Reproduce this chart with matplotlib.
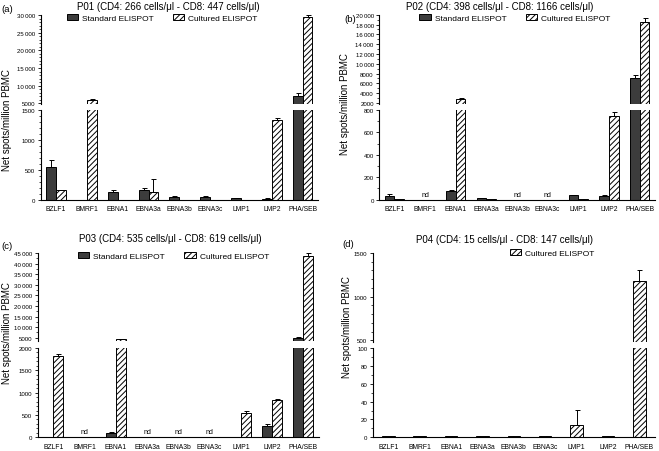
import numpy as np
import matplotlib
matplotlib.use('Agg')
import matplotlib.pyplot as plt
from matplotlib.patches import Patch
from matplotlib.ticker import MultipleLocator, FuncFormatter

plt.rcParams['font.family'] = ['Liberation Sans', 'DejaVu Sans']
plt.rcParams['hatch.linewidth'] = 0.7

W, H = 659, 452
nan = np.nan

categories = ['BZLF1', 'BMRF1', 'EBNA1', 'EBNA3a', 'EBNA3b', 'EBNA3c', 'LMP1', 'LMP2', 'PHA/SEB']

# P01
p01_std = [540, nan, 125, 160, 40, 40, 22, 17, 7200]
p01_std_err = [130, 0, 45, 30, 18, 20, 5, 15, 700]
p01_cult = [170, 6000, 0, 135, 0, 0, 0, 1335, 29500]
p01_cult_err = [0, 300, 0, 210, 0, 0, 0, 25, 400]
p01_nd = []

# P02
p02_std = [36, nan, 78, 15, nan, nan, 39, 30, 7100]
p02_std_err = [15, 0, 12, 3, 0, 0, 6, 12, 550]
p02_cult = [3, nan, 2800, 3, nan, nan, 3, 746, 18600]
p02_cult_err = [0, 0, 200, 0, 0, 0, 0, 36, 800]
p02_nd = ['BMRF1', 'EBNA3b', 'EBNA3c']

# P03
p03_std = [5, nan, 90, nan, nan, nan, nan, 262, 5000]
p03_std_err = [0, 0, 22, 0, 0, 0, 0, 38, 300]
p03_cult = [1820, nan, 4200, nan, nan, nan, 540, 826, 43600]
p03_cult_err = [53, 0, 150, 0, 0, 0, 52, 37, 1300]
p03_nd = ['BMRF1', 'EBNA3a', 'EBNA3b', 'EBNA3c']

# P04 (only cultured)
p04_cult = [1.2, 1.2, 1.2, 1.2, 1.2, 1.2, 14, 1.2, 1180]
p04_cult_err = [0, 0, 0, 0, 0, 0, 17, 0, 125]

STD_COLOR = '#3c3c3c'
ERR_KW = dict(fmt='none', ecolor='black', elinewidth=0.7, capsize=1.8, capthick=0.7)


def tick_fmt(v, pos):
    v = int(round(v))
    if v >= 10000:
        return f'{v:,}'.replace(',', '\u2009')
    return str(v)


def add_ax(left, right, top, bottom):
    return fig.add_axes([left / W, 1 - bottom / H, (right - left) / W, (bottom - top) / H])


def upper_err(ax, xpos, vals, errs):
    vals = np.array(vals, dtype=float)
    errs = np.array(errs, dtype=float)
    m = (errs > 0) & ~np.isnan(vals)
    ax.errorbar(xpos[m], vals[m], yerr=[np.zeros(m.sum()), errs[m]], **ERR_KW)


def panel(box, ylims, majors, minors, title, label, std, std_err, cult, cult_err,
          nd, legend_xy, title_xy, label_xy, ylabel_xy, nd_y):
    left, right, up_top, up_bot, lo_top, lo_bot = box
    ax_up = add_ax(left, right, up_top, up_bot)
    ax_lo = add_ax(left, right, lo_top, lo_bot)
    x = np.arange(len(categories))
    for ax in (ax_up, ax_lo):
        if std is not None:
            w = 0.32
            ax.bar(x - w, std, w, align='edge', color=STD_COLOR, edgecolor='black', linewidth=0.7)
            ax.bar(x, cult, w, align='edge', color='white', edgecolor='black', linewidth=0.7,
                   hatch='//////')
            upper_err(ax, x - w / 2, std, std_err)
            upper_err(ax, x + w / 2, cult, cult_err)
        else:
            w = 0.4
            ax.bar(x, cult, w, color='white', edgecolor='black', linewidth=0.7, hatch='//////')
            upper_err(ax, x, cult, cult_err)
        ax.set_xlim(-0.5, len(categories) - 0.5)
        ax.spines['top'].set_visible(False)
        ax.spines['right'].set_visible(False)
        ax.spines['left'].set_linewidth(0.8)
        ax.spines['bottom'].set_linewidth(0.8)
        ax.tick_params(axis='y', which='major', length=2.5, width=0.6, labelsize=4.4, pad=1.3)
        ax.tick_params(axis='y', which='minor', length=1.3, width=0.5)
        ax.yaxis.set_major_formatter(FuncFormatter(tick_fmt))

    ax_up.set_ylim(*ylims[0])
    ax_lo.set_ylim(*ylims[1])
    ax_up.yaxis.set_major_locator(MultipleLocator(majors[0]))
    ax_up.yaxis.set_minor_locator(MultipleLocator(minors[0]))
    ax_lo.yaxis.set_major_locator(MultipleLocator(majors[1]))
    ax_lo.yaxis.set_minor_locator(MultipleLocator(minors[1]))
    ax_up.spines['bottom'].set_visible(False)
    ax_up.set_xticks([])
    ax_lo.set_xticks(x)
    ax_lo.set_xticklabels(categories, fontsize=4.9)
    ax_lo.tick_params(axis='x', length=0, pad=4)

    for name in nd:
        ax_lo.text(categories.index(name), nd_y, 'nd', ha='center', va='bottom', fontsize=5)

    fig.text(title_xy[0] / W, 1 - title_xy[1] / H, title, ha='center', va='center', fontsize=7)
    fig.text(label_xy[0] / W, 1 - label_xy[1] / H, label, ha='left', va='center', fontsize=6.8)
    fig.text(ylabel_xy[0] / W, 1 - ylabel_xy[1] / H, 'Net spots/million PBMC', rotation=90,
             ha='center', va='center', fontsize=7)

    hs = Patch(facecolor=STD_COLOR, edgecolor='black', linewidth=0.7)
    hc = Patch(facecolor='white', edgecolor='black', linewidth=0.7, hatch='//////')
    if std is not None:
        handles, labels = [hs, hc], ['Standard ELISPOT', 'Cultured ELISPOT']
    else:
        handles, labels = [hc], ['Cultured ELISPOT']
    fig.legend(handles, labels, loc='center left',
               bbox_to_anchor=(legend_xy[0] / W, 1 - legend_xy[1] / H),
               ncol=2, frameon=False, fontsize=6, handlelength=1.35, handleheight=0.75,
               handletextpad=0.5, columnspacing=2.3, borderpad=0, borderaxespad=0)


fig = plt.figure(figsize=(W / 100, H / 100), dpi=100)

panel((40.7, 318, 16, 105, 110.7, 200.7), [(4800, 30000), (0, 1500)], (5000, 500), (1000, 100),
      'P01 (CD4: 266 cells/μl - CD8: 447 cells/μl)', '(a)',
      p01_std, p01_std_err, p01_cult, p01_cult_err, p01_nd,
      (66.7, 19.3), (168.5, 7), (1, 9), (7, 120), 0)

panel((379, 655, 15.7, 105, 111, 200.7), [(1800, 20000), (0, 800)], (2000, 200), (1000, 100),
      'P02 (CD4: 398 cells/μl - CD8: 1166 cells/μl)', '(b)',
      p02_std, p02_std_err, p02_cult, p02_cult_err, p02_nd,
      (419.3, 19.3), (500, 7), (344, 19), (345, 104), 15)

panel((37.7, 319, 254, 342, 349, 438.3), [(3450, 45000), (0, 2000)], (5000, 500), (2500, 100),
      'P03 (CD4: 535 cells/μl - CD8: 619 cells/μl)', '(c)',
      p03_std, p03_std_err, p03_cult, p03_cult_err, p03_nd,
      (78, 257.3), (170.8, 239.3), (1, 247), (7, 333), 50)

panel((372.7, 655, 254, 342.5, 349, 438.3), [(487, 1500), (0, 100)], (500, 20), (100, 10),
      'P04 (CD4: 15 cells/μl - CD8: 147 cells/μl)', '(d)',
      None, None, p04_cult, p04_cult_err, [],
      (510, 254), (505, 240), (342, 245), (347, 327), 0)

fig.savefig('out.png', dpi=100)
